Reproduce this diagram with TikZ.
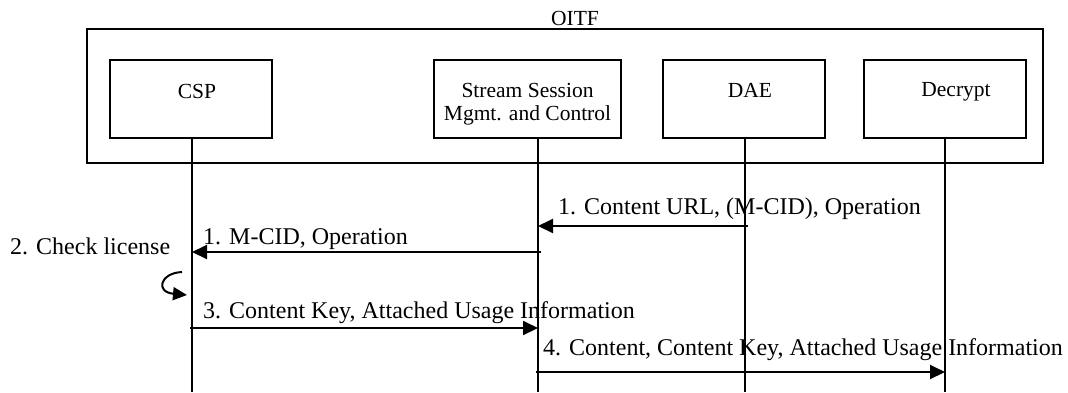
\documentclass[tikz,border=0pt]{standalone}
\usepackage{fontspec}
\setmainfont{Liberation Serif}
\usetikzlibrary{arrows.meta}
\begin{document}
\begin{tikzpicture}[x=1pt,y=-1pt,
  ln/.style={line width=2pt},
  box/.style={draw,line width=2pt,minimum width=162pt,minimum height=78pt,inner sep=0pt},
  boxtext/.style={font=\fontsize{21.5}{23}\selectfont,inner sep=0pt,align=center},
  msgtext/.style={font=\fontsize{24}{26}\selectfont,inner sep=0pt,anchor=base west},
  msg/.style={line width=2pt,-{Triangle[length=15pt,width=14pt]}}]
\useasboundingbox (0,0) rectangle (1068,392);
% outer OITF frame
\node[draw,line width=2pt,minimum width=956pt,minimum height=134pt,inner sep=0pt] (oitf) at (565,96) {};
\node[boxtext,anchor=base] (oitflabel) at (575,25) {OITF};
% boxes
\node[box] (csp) at (191,99) {};
\node[box,minimum width=187pt] (ssm) at (527.5,99) {};
\node[box] (dae) at (744,99) {};
\node[box] (dec) at (945,99) {};
\node[boxtext,anchor=base] (csptext) at (197,98) {CSP};
\node[boxtext,anchor=base] (ssmtext) at (527.5,120) {Stream Session\\Mgmt. and Control};
\node[boxtext,anchor=base] (daetext) at (750,97) {DAE};
\node[boxtext,anchor=base] (dectext) at (956,96) {Decrypt};
% lifelines
\coordinate (csptop) at (192,138);
\coordinate (cspbot) at (192,392);
\coordinate (ssmtop) at (538,138);
\coordinate (ssmbot) at (538,392);
\coordinate (daetop) at (745,138);
\coordinate (daebot) at (745,392);
\coordinate (dectop) at (945,138);
\coordinate (decbot) at (945,392);
\draw[ln] (csptop) -- (cspbot);
\draw[ln] (ssmtop) -- (ssmbot);
\draw[ln] (daetop) -- (daebot);
\draw[ln] (dectop) -- (decbot);
% message 1 (DAE -> SSM)
\coordinate (m1a) at (748,226);
\coordinate (m1b) at (538,226);
\draw[msg] (m1a) -- (m1b);
\node[msgtext] (m1t) at (558,214) {1. Content URL, (M-CID), Operation};
% message 1 (SSM -> CSP)
\coordinate (m2a) at (541,252);
\coordinate (m2b) at (192,252);
\draw[msg] (m2a) -- (m2b);
\node[msgtext] (m2t) at (203,244) {1. M-CID, Operation};
% check license
\node[msgtext] (chk) at (10,254) {2. Check license};
\coordinate (c1) at (182,272);
\coordinate (c2) at (187,295);
\draw[line width=2pt,-{Triangle[length=14pt,width=13pt]}] (c1) .. controls (160,273) and (155,292) .. (c2);
% message 3 (CSP -> SSM)
\coordinate (m3a) at (190,328);
\coordinate (m3b) at (538,328);
\draw[msg] (m3a) -- (m3b);
\node[msgtext] (m3t) at (203,318) {3. Content Key, Attached Usage Information};
% message 4 (SSM -> Decrypt)
\coordinate (m4a) at (536,372);
\coordinate (m4b) at (945,372);
\draw[msg] (m4a) -- (m4b);
\node[msgtext] (m4t) at (543,355.7) {4. Content, Content Key, Attached Usage Information};
\end{tikzpicture}
\end{document}
